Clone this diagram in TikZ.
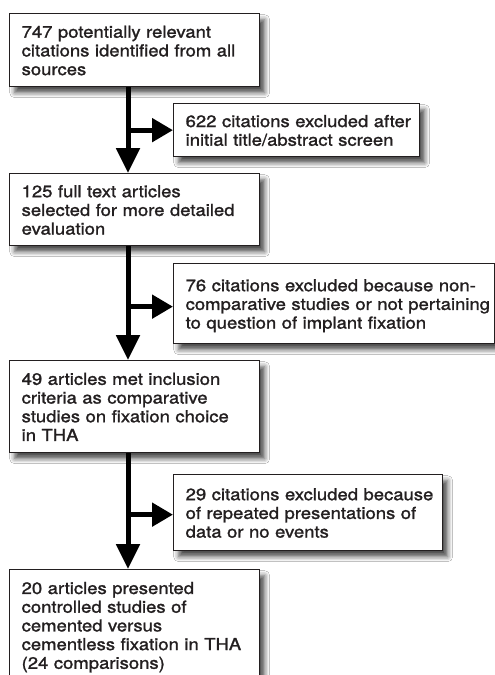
\documentclass[tikz,border=0pt]{standalone}
\usepackage{fontspec}
\setmainfont{TeX Gyre Heros}[FakeStretch=1.12,FakeBold=1.4]
\usetikzlibrary{arrows.meta,shadows.blur,calc}
\newcommand\boxlines[1]{\raisebox{-2.5pt}[\height][\depth]{\begin{tabular}{@{}l@{}}#1\end{tabular}}}
\definecolor{ink}{HTML}{231F20}
\tikzset{
  box/.style={draw=ink, line width=1.3pt, fill=white, text=ink, align=left,
    anchor=north west, inner xsep=12pt, inner ysep=0pt,
    font=\fontsize{16.5}{18.7}\selectfont,
    blur shadow={shadow xshift=5pt, shadow yshift=-6pt, shadow blur radius=5pt, shadow opacity=70}},
  trunk/.style={draw=black, line width=5pt, -{Triangle[length=25pt,width=23pt]}},
  branch/.style={draw=black, line width=5pt, -{Triangle[length=21pt,width=23pt]}}
}
\begin{document}
\begin{tikzpicture}[x=1pt,y=-1pt]
\useasboundingbox (0,0) rectangle (495,675);
\fill[white] (0,0) rectangle (495,675);
\clip (0,0) rectangle (495,675);
\node[box, text width=226pt, minimum height=73pt] (b1) at (9,13)
  {\boxlines{747 potentially relevant\\citations identified from all\\sources}};
\node[box, text width=222pt, minimum height=53pt] (b2) at (173,103)
  {\boxlines{622 citations excluded after\\initial title/abstract screen}};
\node[box, text width=226pt, minimum height=72pt] (b3) at (9,173)
  {\boxlines{125 full text articles\\selected for more detailed\\evaluation}};
\node[box, text width=297pt, minimum height=80pt] (b4) at (173,263)
  {\boxlines{76 citations excluded because non-\\comparative studies or not pertaining\\to question of implant fixation}};
\node[box, text width=226pt, minimum height=92pt] (b5) at (9,360)
  {\boxlines{49 articles met inclusion\\criteria as comparative\\studies on fixation choice\\in THA}};
\node[box, text width=245pt, minimum height=76pt] (b6) at (173,474)
  {\boxlines{29 citations excluded because\\of repeated presentations of\\data or no events}};
\node[box, text width=226pt, minimum height=111pt] (b7) at (9,569)
  {\boxlines{20 articles presented\\controlled studies of\\cemented versus\\cementless fixation in THA\\(24 comparisons)}};
% trunk 1
\coordinate (s1) at ($(b1.south west)+(119,0)$);
\draw[trunk] (s1) -- (s1 |- b3.north);
\draw[branch] (s1 |- b2.west) -- (b2.west);
% trunk 2
\coordinate (s2) at ($(b3.south west)+(119,0)$);
\draw[trunk] (s2) -- (s2 |- b5.north);
\draw[branch] ($(s2 |- b4.west)+(0,3)$) coordinate (j2) -- (j2 -| b4.west);
% trunk 3
\coordinate (s3) at ($(b5.south west)+(119,0)$);
\draw[trunk] (s3) -- (s3 |- b7.north);
\draw[branch] ($(s3 |- b6.west)+(0,2)$) coordinate (j3) -- (j3 -| b6.west);
\end{tikzpicture}
\end{document}
